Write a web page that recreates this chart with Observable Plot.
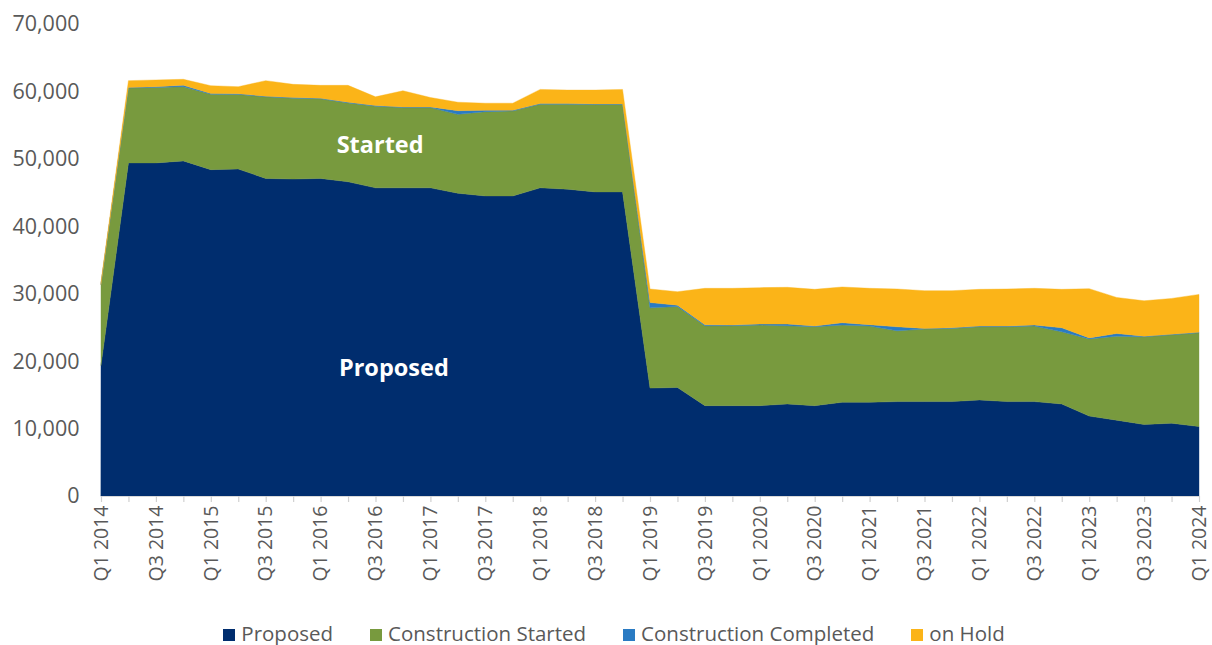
<!DOCTYPE html>
<html>
<head>
<meta charset="utf-8">
<script src="https://cdn.jsdelivr.net/npm/d3@7"></script>
<script src="https://cdn.jsdelivr.net/npm/@observablehq/plot@0.6"></script>
<style>
  body { margin: 0; background: #fff; font-family: "Open Sans", sans-serif; }
  #legend { display: flex; justify-content: center; gap: 37px; font-size: 20.5px; color: #595959; padding-left: 16px; margin-top: 8px; line-height: 26px; }
  #legend span.sw { display: inline-block; width: 12px; height: 12px; margin-right: 6px; vertical-align: 0px; }
</style>
</head>
<body>
<div id="chart"></div>
<div id="legend"></div>
<script>
const quarters = [];
for (let y = 2014; y <= 2024; y++) for (let q = 1; q <= 4; q++) if (!(y === 2024 && q > 1)) quarters.push(`Q${q} ${y}`);

const seriesNames = ["Proposed", "Construction Started", "Construction Completed", "on Hold"];
const seriesColors = ["#002D6E", "#789A3E", "#2A7BC3", "#FBB418"];

const proposed = [19400,49400,49400,49700,48400,48500,47100,47000,47100,46600,45700,45700,45700,44900,44500,44500,45700,45500,45100,45100,
  16000,16100,13400,13400,13400,13650,13400,13900,13900,14000,14000,14000,14250,14000,14000,13650,11850,11250,10600,10800,10300];
const started = [12000,11100,11200,11000,11200,11050,12100,12000,11800,11700,12100,11900,11900,11700,12500,12600,12400,12600,12950,12950,
  11900,12000,11850,11850,11950,11600,11700,11450,11300,10500,10750,10850,10850,11100,11200,10700,11450,12450,13000,13100,13900];
const completed = [0,100,100,200,100,100,100,100,100,100,100,100,100,550,200,100,100,100,100,100,
  800,200,150,100,150,250,100,350,200,600,100,100,100,100,150,600,150,400,100,100,100];
const onHold = [300,1000,1000,900,1150,1050,2300,1950,1900,2500,1300,2400,1400,1250,1050,1050,2100,2000,2050,2150,
  2000,2000,5400,5450,5400,5450,5450,5300,5400,5600,5600,5500,5450,5500,5450,5700,7300,5350,5250,5300,5600];

const yTicks = [0,10000,20000,30000,40000,50000,60000,70000];
const annotations = [
  {i: 10.15, v: 52000, label: "Started"},
  {i: 10.65, v: 19000, label: "Proposed"}
];

const seriesValues = [proposed, started, completed, onHold];
const table = [];
seriesNames.forEach((s, k) => seriesValues[k].forEach((v, i) => table.push({i, series: s, value: v})));

const W = 1212, H = 612;
const chart = Plot.plot({
  width: W, height: H,
  marginLeft: 101, marginRight: 13, marginTop: 24, marginBottom: H - 496,
  style: {fontFamily: "'Open Sans', sans-serif", background: "#fff"},
  x: {type: "linear", domain: [0, quarters.length - 1], label: null},
  y: {domain: [0, 70000], label: null},
  color: {domain: seriesNames, range: seriesColors},
  marks: [
    Plot.areaY(table, Plot.stackY({x: "i", y: "value", fill: "series", order: seriesNames, stroke: "series", strokeWidth: 0.4})),
    Plot.ruleY([0], {stroke: "#d9d9d9", strokeWidth: 1}),
    Plot.axisX({ticks: d3.range(quarters.length), tickFormat: () => "", tickSize: 6, stroke: "#d0d0d0", strokeWidth: 1.2, label: null}),
    Plot.axisX({ticks: d3.range(0, quarters.length, 2), tickFormat: i => quarters[i], tickSize: 0, tickPadding: 9,
      tickRotate: -90, fontSize: 19.5, fill: "#595959", label: null}),
    Plot.axisY({ticks: yTicks, tickFormat: d => d3.format(",")(d), tickSize: 0, tickPadding: 22, fontSize: 21.5, fill: "#595959", label: null}),
    Plot.text(annotations, {x: "i", y: "v", text: "label", fill: "white", fontWeight: "bold", fontSize: 23.5, fontFamily: "'Open Sans', sans-serif"})
  ]
});
document.getElementById("chart").appendChild(chart);

const legend = document.getElementById("legend");
seriesNames.forEach((s, k) => {
  const d = document.createElement("div");
  d.innerHTML = `<span class="sw" style="background:${seriesColors[k]}"></span>${s}`;
  legend.appendChild(d);
});
</script>
</body>
</html>
